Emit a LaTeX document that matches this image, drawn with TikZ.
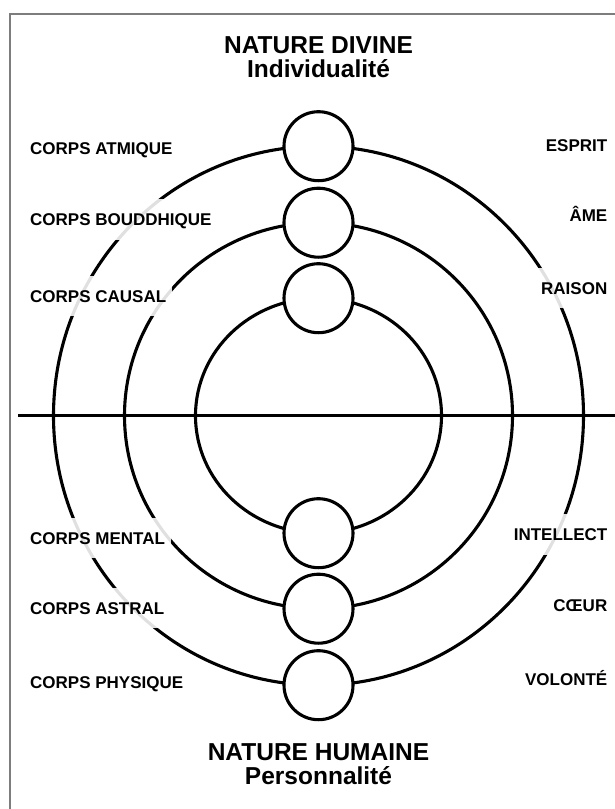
\documentclass[tikz,border=0pt]{standalone}
\usepackage{fontspec}
\setmainfont{Liberation Sans}
\definecolor{framegray}{RGB}{125,125,125}
\tikzset{
  ring/.style={line width=3.1pt},
  chakra/.style={circle, draw, fill=white, line width=3.1pt, minimum size=69pt, inner sep=0pt},
  corps/.style={font=\bfseries\fontsize{17}{17}\selectfont, text height=12.2pt, text depth=0pt,
    inner xsep=6pt, inner ysep=14pt, fill=white, fill opacity=0.88, text opacity=1},
  titre/.style={font=\bfseries\fontsize{24.5}{24.5}\selectfont, inner sep=0pt, anchor=base}
}

\begin{document}
\begin{tikzpicture}[x=1pt, y=-1pt]
\useasboundingbox (0,0) rectangle (615,809);

% Frame
\draw[framegray, line width=1.5pt] (10,840) -- (10,14) -- (640,14);

% Centre and axis
\coordinate (c) at (318.5,415.7);
\coordinate (west) at (18,415.7);
\coordinate (east) at (625,415.7);
\draw[line width=3.3pt] (west) -- (east);

% Rings
\draw[ring] (c) ellipse [x radius=265pt, y radius=269.5pt];
\draw[ring] (c) ellipse [x radius=194pt, y radius=193pt];
\draw[ring] (c) ellipse [x radius=123pt, y radius=117.5pt];

% Titles
\node[titre] (divine) at (318.5,53) {NATURE DIVINE};
\node[titre] (indiv) at (318.5,77) {Individualité};
\node[titre] (humaine) at (318.5,760) {NATURE HUMAINE};
\node[titre] (perso) at (318.5,784) {Personnalité};

% Bodies (left)
\foreach \y/\t in {148/CORPS ATMIQUE, 219.5/CORPS BOUDDHIQUE, 296/CORPS CAUSAL,
                   538/CORPS MENTAL, 608/CORPS ASTRAL, 682/CORPS PHYSIQUE} {
  \node[corps, anchor=west] at (24,\y) {\t};
}

% Faculties (right)
\foreach \y/\t in {145/ESPRIT, 215/ÂME, 288/RAISON,
                   534.5/INTELLECT, 605.5/CŒUR, 679/VOLONTÉ} {
  \node[corps, anchor=east] at (613.5,\y) {\t};
}

% Chakras on the rings
\node[chakra] (atm) at (318.5,146.2) {};
\node[chakra] (bou) at (318.5,222.7) {};
\node[chakra] (cau) at (318.5,298.2) {};
\node[chakra] (men) at (318.5,533.2) {};
\node[chakra] (ast) at (318.5,608.7) {};
\node[chakra] (phy) at (318.5,685.2) {};

\end{tikzpicture}
\end{document}
